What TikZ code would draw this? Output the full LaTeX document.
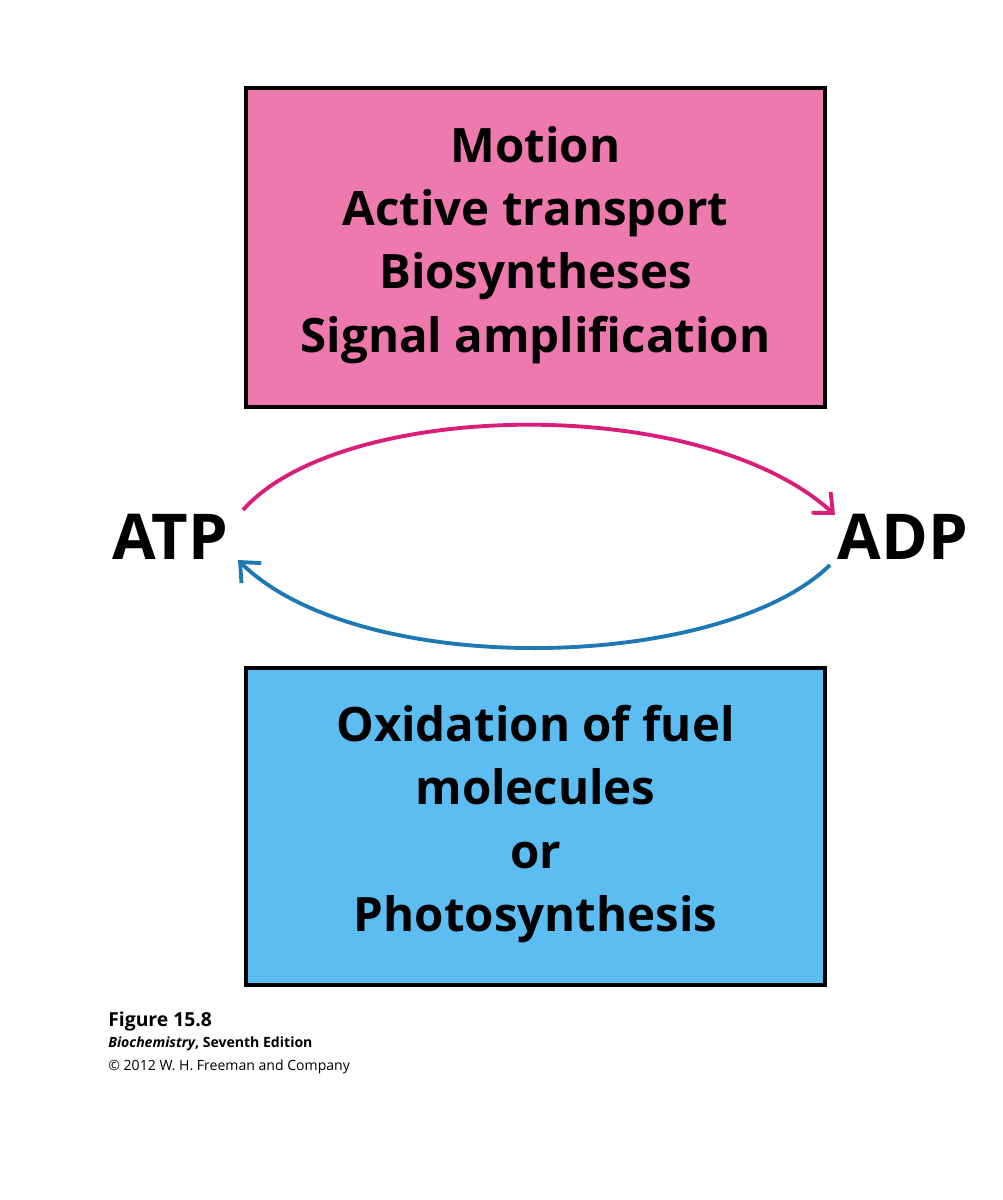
\documentclass[tikz,border=0pt]{standalone}
\usepackage{fontspec}
\setmainfont{Open Sans}
\usetikzlibrary{arrows.meta}
\definecolor{pinkbox}{HTML}{EE79AE}
\definecolor{bluebox}{HTML}{5BBDF2}
\definecolor{pinkarc}{HTML}{D81E78}
\definecolor{bluearc}{HTML}{1E78B4}
\begin{document}
\begin{tikzpicture}[x=0.02cm,y=-0.02cm,
  boxtext/.style={font=\fontsize{27}{36}\selectfont\bfseries,align=center},
  mol/.style={font=\fontsize{36}{40}\selectfont\bfseries},
  arc/.style={line width=2.2pt,-{Straight Barb[length=9pt,width=16pt,line width=2.2pt]}}]
\useasboundingbox (0,0) rectangle (1003,1200);
\fill[pinkbox] (246,88) rectangle (825,407);
\draw[line width=2.2pt] (246,88) rectangle (825,407);
\fill[bluebox] (246,668) rectangle (825,985);
\draw[line width=2.2pt] (246,668) rectangle (825,985);
\node[boxtext] (top) at (535.5,245) {Motion\\Active transport\\Biosyntheses\\Signal amplification};
\node[boxtext] (bot) at (535.5,824) {Oxidation of fuel\\molecules\\or\\Photosynthesis};
\node[mol] (atp) at (170,537) {ATP};
\node[mol] (adp) at (903,537) {ADP};
\coordinate (a1) at (243,510);
\coordinate (a2) at (835,515);
\coordinate (b1) at (830,565);
\coordinate (b2) at (238,560);
\draw[arc,pinkarc] (a1) .. controls (340,400) and (700,392) .. (a2);
\draw[arc,bluearc] (b1) .. controls (720,672) and (360,680) .. (b2);
\node[anchor=west,font=\fontsize{11}{12}\selectfont\bfseries,inner sep=0pt] (fig) at (108,1021) {Figure 15.8};
\node[anchor=west,font=\fontsize{8}{9}\selectfont\bfseries,inner sep=0pt] (book) at (108,1044) {\textit{Biochemistry}, Seventh Edition};
\node[anchor=west,font=\fontsize{8}{9}\selectfont,inner sep=0pt] (copy) at (108,1067) {© 2012 W. H. Freeman and Company};
\end{tikzpicture}
\end{document}
